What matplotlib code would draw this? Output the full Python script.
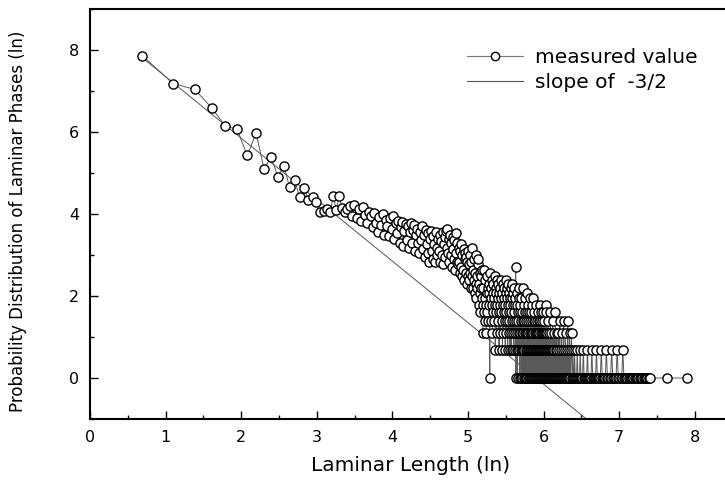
import numpy as np
import matplotlib.pyplot as plt
from matplotlib.lines import Line2D
from matplotlib.ticker import MultipleLocator

# Laminar phase statistics: length -> number of laminar phases of that length
# short lengths (2..20)
head_len = list(range(2, 21))
head_cnt = [2590, 1315, 1140, 727, 464, 433, 228, 391, 164, 221,
            134, 178, 105, 125, 82, 102, 76, 82, 73]

# lengths 21..180
band_len = list(range(21, 181))
band_cnt = [57, 59, 62, 58, 84, 60, 85, 63, 57, 61,
            66, 52, 68, 50, 62, 46, 64, 53, 44, 58,
            52, 40, 56, 44, 35, 51, 42, 55, 33, 47, 41, 32, 49, 38, 52,
            30, 44, 34, 46, 27, 40, 45, 25, 36, 43, 29, 41, 24, 35, 44, 27, 37, 42, 22, 33,
            38, 27, 21, 35, 29, 41, 23, 33, 19, 37, 26, 21, 34, 17, 30, 36, 22, 18, 32, 26,
            17, 35, 24, 20, 30,
            22, 33, 17, 28, 20, 35, 16, 26, 31, 19, 36, 24, 38, 21, 30, 17, 33, 20, 27, 15,
            31, 23, 18, 29, 14, 34, 21, 17, 27, 16,
            24, 17, 13, 22, 15, 26, 12, 20, 14, 23, 11, 18, 21, 13, 19, 10, 17, 22, 12, 16,
            11, 20, 13, 9, 17,
            24, 12, 9, 14, 11, 18, 8, 13, 10, 20, 7, 12, 9, 16, 18, 6, 10, 13, 8, 5,
            12, 9, 7, 14, 6]

# lengths 181..420
trans_len = list(range(181, 421))
trans_cnt = [3, 9, 5, 14, 4, 7, 11, 6, 3, 8, 12, 5, 9, 4, 10, 6, 8, 1, 13, 7,
             4, 9, 6, 11, 3, 8, 5, 10, 7, 4, 12, 6, 2, 9, 5, 8, 3, 11, 6, 7,
             4, 10, 5, 2, 8, 6, 9, 3, 7, 11, 5, 4, 8, 2, 6, 10, 3, 7, 5, 9,
             4, 6, 2, 8, 11, 3, 5, 7, 4, 9, 2, 6, 10, 5, 3, 8, 4, 7, 2, 6,
             9, 3, 5, 2, 7, 4, 10, 6, 3, 8, 2, 5, 4, 9, 3, 6, 2, 7, 15, 1,
             4, 2, 6, 3, 8, 1, 5, 2, 4, 7, 3, 2, 9, 1, 5, 3, 6, 2, 4, 1,
             7, 3, 2, 5, 1, 4, 9, 2, 3, 6, 1, 4, 2, 5, 3, 1, 7, 2, 4, 3,
             1, 5, 2, 3, 8, 1, 4, 2, 6, 3, 1, 2, 5, 1, 3, 7, 2, 4, 1, 3,
             2, 5, 1, 3, 2, 6, 1, 4, 2, 1, 3, 7, 2, 1, 4, 2, 5, 1, 3, 2,
             1, 4, 2, 3, 1, 6, 2, 1, 3, 2, 4, 1, 2, 5, 1, 3, 2, 1, 4, 2,
             1, 3, 2, 6, 1, 2, 4, 1, 3, 2, 1, 5, 2, 1, 3, 2, 4, 1, 2, 3,
             1, 2, 5, 1, 3, 2, 1, 4, 2, 1, 3, 1, 2, 6, 1, 2, 3, 1, 5, 2]

# long lengths (only the ones that occurred)
tail_len = [421, 422, 424, 425, 427, 428, 430, 431, 433, 435, 436, 438, 440, 441, 443,
            445, 447, 448, 450, 452, 454, 455, 457, 459, 461, 463, 465, 466, 468, 470,
            472, 474, 476, 478, 479,
            482, 484, 487, 489, 492, 494, 497, 500, 503, 505, 508, 511, 513, 516, 519,
            522, 525, 527, 530, 533, 536, 540, 543, 546, 549, 552, 556, 559, 562, 566,
            569, 573, 576, 580, 584,
            589, 594, 598, 603, 608, 613, 619, 624, 630, 636, 642, 649, 655, 662, 668,
            675, 683, 690, 698, 705, 713, 721, 729, 738, 746, 755, 764, 773, 783, 792,
            802, 812, 822, 833, 843, 854, 866, 877, 889, 901, 913, 926, 939, 952, 965,
            979, 993, 1007, 1022, 1037, 1052, 1068, 1084, 1100, 1117, 1134, 1151, 1168,
            1186, 1205, 1224, 1243, 1263, 1283, 1304, 1325, 1347, 1369, 1392, 1415, 1439,
            1463, 1488, 1514, 1540, 1567, 1595, 1623, 1650, 2060, 2700]
tail_cnt = [2, 1, 3, 1, 2, 4, 1, 2, 1, 3, 1, 2, 1, 5, 1,
            2, 1, 3, 1, 2, 1, 4, 1, 2, 1, 3, 1, 2, 1, 1,
            5, 1, 2, 1, 3,
            1, 2, 1, 3, 1, 2, 1, 4, 1, 2, 1, 1, 3, 1, 2,
            1, 1, 4, 1, 2, 1, 3, 1, 1, 2, 1, 4, 1, 2, 1,
            3, 1, 1, 2, 3,
            1, 2, 1, 1, 2, 1, 1, 1, 2, 1, 1, 1, 2, 1, 1,
            1, 2, 1, 1, 1, 1, 2, 1, 1, 1, 1, 2, 1, 1, 1,
            1, 2, 1, 1, 1, 1, 2, 1, 1, 1, 1, 2, 1, 1, 1,
            1, 2, 1, 1, 1, 1, 2, 1, 1, 1, 1, 2, 1,
            1, 1, 1, 1, 1, 1, 1, 1, 1, 1, 1, 1, 1,
            1, 1, 1, 1, 1, 1, 1, 1, 1, 1]

# fitted power law, slope -3/2 in ln-ln
slope = -1.5
intercept = 8.85
slope_x = [0.69, 6.7]

lengths = np.array(head_len + band_len + trans_len + tail_len, dtype=float)
counts = np.array(head_cnt + band_cnt + trans_cnt + tail_cnt, dtype=float)
x = np.log(lengths)
y = np.log(counts)
sx = np.array(slope_x)
sy = intercept + slope * sx

fig = plt.figure(figsize=(7.25, 4.8), dpi=100)
ax = fig.add_axes([90/725, 1 - 419/480, 635/725, 410/480])

ax.plot(sx, sy, color='#555555', lw=0.7, zorder=1.5)
ax.plot(x, y, color='#5a5a5a', lw=0.7, marker='o', ms=6.6,
        mfc='white', mec='black', mew=1.0, zorder=2)

ax.set_xlim(0, 8.4)
ax.set_ylim(-1, 9)
ax.xaxis.set_major_locator(MultipleLocator(1))
ax.xaxis.set_minor_locator(MultipleLocator(0.5))
ax.yaxis.set_major_locator(MultipleLocator(2))
ax.yaxis.set_minor_locator(MultipleLocator(1))
ax.tick_params(which='both', direction='in', top=False, right=False, width=1.0)
ax.tick_params(which='major', length=6, labelsize=11.5)
ax.tick_params(axis='y', which='major', pad=8)
ax.tick_params(axis='x', which='major', pad=8)
ax.tick_params(which='minor', length=3)

for side in ['left', 'bottom', 'top']:
    ax.spines[side].set_linewidth(1.5)
ax.spines['right'].set_visible(False)

ax.set_xlabel('Laminar Length (ln)', fontsize=14.5)
ax.xaxis.set_label_coords(0.5055, -0.090)
ax.set_ylabel('Probability Distribution of Laminar Phases (ln)', fontsize=12)
ax.yaxis.set_label_coords(-0.099, 0.4817)

handles = [Line2D([], [], color='#777777', lw=0.8, marker='o', ms=6,
                  mfc='white', mec='black', mew=1.0),
           Line2D([], [], color='#555555', lw=0.8)]
ax.legend(handles, ['measured value', 'slope of  -3/2'], loc='upper left',
          bbox_to_anchor=(467/725, 1 - 48/480), bbox_transform=fig.transFigure,
          frameon=False, fontsize=14.5, numpoints=1, handlelength=2.78,
          handletextpad=0.6, labelspacing=0.3, borderpad=0, borderaxespad=0)

fig.savefig('out.png', dpi=100)
